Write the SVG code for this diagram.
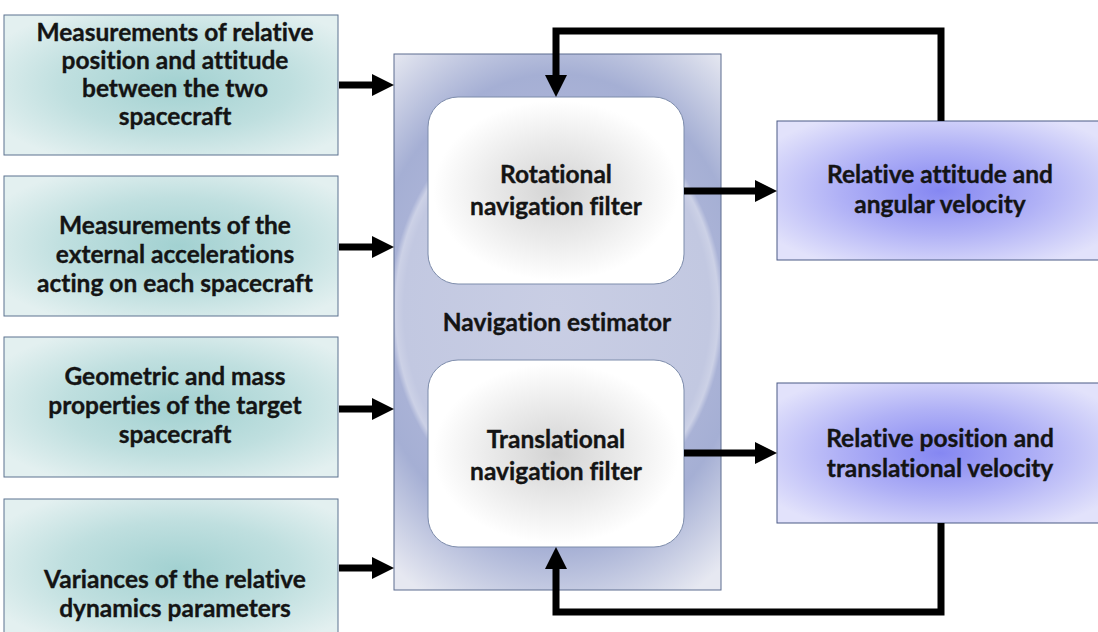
<svg xmlns="http://www.w3.org/2000/svg" width="1098" height="632" viewBox="0 0 1098 632">
  <defs>
    <!-- teal input boxes -->
    <radialGradient id="gInput" cx="0.52" cy="0.5" r="0.62">
      <stop offset="0" stop-color="#a2d1d1"/>
      <stop offset="0.55" stop-color="#bfdfdf"/>
      <stop offset="1" stop-color="#e3f0f0"/>
    </radialGradient>
    <!-- periwinkle output boxes -->
    <radialGradient id="gOutput" cx="0.5" cy="0.5" r="0.62">
      <stop offset="0" stop-color="#8587f2"/>
      <stop offset="0.5" stop-color="#b0b1f6"/>
      <stop offset="1" stop-color="#e2e2fb"/>
    </radialGradient>
    <!-- estimator container: soft elliptical glow behind the filters -->
    <radialGradient id="gEstimator" gradientUnits="userSpaceOnUse" cx="557" cy="310" r="264"
        gradientTransform="translate(557 310) scale(1 1.242) translate(-557 -310)">
      <stop offset="0" stop-color="#c9cee4"/>
      <stop offset="0.58" stop-color="#c2c8e1"/>
      <stop offset="0.612" stop-color="#ccd1e6"/>
      <stop offset="0.632" stop-color="#a9b2d6"/>
      <stop offset="0.72" stop-color="#a5afd4"/>
      <stop offset="1" stop-color="#e6e8f1"/>
    </radialGradient>
    <!-- white filter blocks with grey centre -->
    <radialGradient id="gFilter" cx="0.5" cy="0.5" r="0.6">
      <stop offset="0" stop-color="#d3d3d3"/>
      <stop offset="0.45" stop-color="#ebebeb"/>
      <stop offset="0.8" stop-color="#ffffff"/>
    </radialGradient>
    <marker id="head" markerUnits="userSpaceOnUse" markerWidth="22" markerHeight="22" refX="0" refY="11" orient="auto">
      <path d="M0,0 L22,11 L0,22 Z" fill="#000"/>
    </marker>
  </defs>
  <style>
    .lbl { font-family: "Lato", "Liberation Sans", sans-serif; font-weight: 700; font-size: 24.5px; fill: #141414; stroke: #141414; stroke-width: 0.35; text-anchor: middle; font-variant-ligatures: none; font-feature-settings: "liga" 0, "dlig" 0; }
    .input { fill: url(#gInput); stroke: #5d7390; stroke-width: 1; }
    .output { fill: url(#gOutput); stroke: #4b5a85; stroke-width: 1; }
    .filter { fill: url(#gFilter); stroke: #7d8cab; stroke-width: 1; }
    .wire { fill: none; stroke: #000; stroke-width: 7; stroke-linejoin: miter; marker-end: url(#head); }
  </style>

  <rect width="1098" height="632" fill="#ffffff"/>

  <!-- inputs -->
  <g id="input-measurements">
    <rect class="input" x="4" y="15" width="334" height="140"/>
    <text class="lbl" x="175" y="41">Measurements of relative</text>
    <text class="lbl" x="175" y="69">position and attitude</text>
    <text class="lbl" x="175" y="97">between the two</text>
    <text class="lbl" x="175" y="125">spacecraft</text>
  </g>
  <g id="input-accelerations">
    <rect class="input" x="4" y="176" width="334" height="140"/>
    <text class="lbl" x="175" y="234">Measurements of the</text>
    <text class="lbl" x="175" y="263">external accelerations</text>
    <text class="lbl" x="175" y="292">acting on each spacecraft</text>
  </g>
  <g id="input-properties">
    <rect class="input" x="4" y="337" width="334" height="140"/>
    <text class="lbl" x="175" y="385">Geometric and mass</text>
    <text class="lbl" x="175" y="414">properties of the target</text>
    <text class="lbl" x="175" y="443">spacecraft</text>
  </g>
  <g id="input-variances">
    <rect class="input" x="4" y="499" width="334" height="140"/>
    <text class="lbl" x="175" y="588">Variances of the relative</text>
    <text class="lbl" x="175" y="617">dynamics parameters</text>
  </g>

  <!-- estimator container with its two filters -->
  <g id="estimator">
    <rect x="394" y="54" width="327" height="536" fill="url(#gEstimator)" stroke="#5d6c8f" stroke-width="1"/>
    <text class="lbl" x="557" y="331">Navigation estimator</text>
  </g>
  <g id="rotational-filter">
    <rect class="filter" x="428" y="97" width="256" height="187" rx="30" ry="30"/>
    <text class="lbl" x="556" y="183">Rotational</text>
    <text class="lbl" x="556" y="215">navigation filter</text>
  </g>
  <g id="translational-filter">
    <rect class="filter" x="428" y="360" width="256" height="187" rx="30" ry="30"/>
    <text class="lbl" x="556" y="448">Translational</text>
    <text class="lbl" x="556" y="480">navigation filter</text>
  </g>

  <!-- outputs -->
  <g id="output-attitude">
    <rect class="output" x="777" y="121" width="326" height="139"/>
    <text class="lbl" x="940" y="183">Relative attitude and</text>
    <text class="lbl" x="940" y="213">angular velocity</text>
  </g>
  <g id="output-position">
    <rect class="output" x="777" y="383" width="326" height="140"/>
    <text class="lbl" x="940" y="447">Relative position and</text>
    <text class="lbl" x="940" y="477">translational velocity</text>
  </g>

  <!-- connectors -->
  <g id="connectors">
    <path class="wire" d="M339,85 H372"/>
    <path class="wire" d="M339,247 H372"/>
    <path class="wire" d="M339,409 H372"/>
    <path class="wire" d="M339,568 H372"/>
    <path class="wire" d="M684,191 H755"/>
    <path class="wire" d="M684,453 H755"/>
    <path class="wire" d="M941,121 V31 H556 V75"/>
    <path class="wire" d="M941,523 V612 H556 V569"/>
  </g>
</svg>
